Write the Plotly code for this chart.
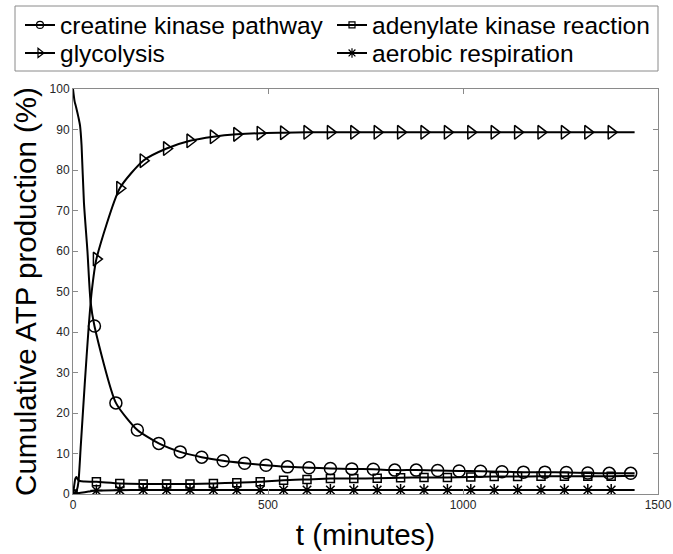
import plotly.graph_objects as go

# ---------------- data ----------------
# creatine kinase pathway: early transient (no markers) and marker points
ck_t_early = [0, 4, 8, 14, 18, 22, 28, 37, 45]
ck_early = [100, 97, 95.5, 93, 91, 86, 72, 60, 47.5]
ck_t_mark = [55, 110, 165, 220, 275, 330, 385, 440, 495, 550, 605, 660, 715,
             770, 825, 880, 935, 990, 1045, 1100, 1155, 1210, 1265, 1320, 1375, 1430]
ck_mark = [41.5, 22.5, 15.8, 12.5, 10.4, 9.1, 8.2, 7.6, 7.1, 6.7, 6.5, 6.3, 6.2,
           6.1, 5.9, 5.9, 5.8, 5.7, 5.6, 5.5, 5.4, 5.4, 5.3, 5.2, 5.1, 5.1]
ck_t_end = [1440]
ck_end = [5.1]

# adenylate kinase reaction
ak_t_early = [3, 6, 9, 12, 18, 30]
ak_early = [2.0, 3.8, 4.2, 3.6, 3.2, 3.1]
ak_t_mark = [0, 60, 120, 180, 240, 300, 360, 420, 480, 540, 600, 660, 720, 780,
             840, 900, 960, 1020, 1080, 1140, 1200, 1260, 1320, 1380]
ak_mark = [0, 3.0, 2.6, 2.5, 2.5, 2.5, 2.6, 2.8, 3.0, 3.4, 3.6, 3.8, 3.8, 3.9,
           4.0, 4.1, 4.1, 4.2, 4.3, 4.3, 4.4, 4.4, 4.4, 4.4]
ak_t_end = [1440]
ak_end = [4.5]

# glycolysis
gl_t_early = [6, 10, 14, 20, 30, 40, 48]
gl_early = [0.3, 1.0, 3.0, 12, 27, 41, 50]
gl_t_mark = [0, 60, 120, 180, 240, 300, 360, 420, 480, 540, 600, 660, 720, 780,
             840, 900, 960, 1020, 1080, 1140, 1200, 1260, 1320, 1380]
gl_mark = [0, 58, 75.5, 82.3, 85.3, 87.2, 88.2, 88.8, 89.1, 89.2, 89.3, 89.3, 89.3, 89.3,
           89.3, 89.3, 89.3, 89.3, 89.3, 89.3, 89.3, 89.3, 89.3, 89.3]
gl_t_end = [1440]
gl_end = [89.3]

# aerobic respiration
ar_t_early = [20, 40]
ar_early = [0.3, 0.6]
ar_t_mark = [0, 60, 120, 180, 240, 300, 360, 420, 480, 540, 600, 660, 720, 780,
             840, 900, 960, 1020, 1080, 1140, 1200, 1260, 1320, 1380]
ar_mark = [0, 0.85, 0.95, 1.0, 1.0, 1.0, 1.0, 1.0, 1.0, 1.0, 1.0, 1.0, 1.0, 1.0,
           1.0, 1.0, 1.0, 1.0, 1.0, 1.0, 1.0, 1.0, 1.0, 1.0]
ar_t_end = [1440]
ar_end = [1.0]

names = ["creatine kinase pathway", "adenylate kinase reaction",
         "glycolysis", "aerobic respiration"]
x_ticks = [0, 500, 1000, 1500]
y_ticks = [0, 10, 20, 30, 40, 50, 60, 70, 80, 90, 100]

FONT = "Liberation Sans, Arial, Helvetica, sans-serif"
BLACK = "#000000"
FRAME = "#8a8a8a"

W, H = 673, 554
ML, MR, MT, MB = 73, 15, 89, 60
PW, PH = W - ML - MR, H - MT - MB


def merged(te, ye, tm, ym, tz, yz):
    pts = sorted(zip(te + tm + tz, ye + ym + yz))
    return [p[0] for p in pts], [p[1] for p in pts]


series = [
    (names[0], ck_t_early, ck_early, ck_t_mark, ck_mark, ck_t_end, ck_end, "circle-open", 12, 7, "legend"),
    (names[1], ak_t_early, ak_early, ak_t_mark, ak_mark, ak_t_end, ak_end, "square-open", 8, 6, "legend2"),
    (names[2], gl_t_early, gl_early, gl_t_mark, gl_mark, gl_t_end, gl_end, "triangle-right-open", 12, 8, "legend3"),
    (names[3], ar_t_early, ar_early, ar_t_mark, ar_mark, ar_t_end, ar_end, "asterisk-open", 10, 8, "legend4"),
]

fig = go.Figure()
for name, te, ye, tm, ym, tz, yz, sym, size, lsize, lg in series:
    tl, yl = merged(te, ye, tm, ym, tz, yz)
    fig.add_trace(go.Scatter(x=tl, y=yl, mode="lines", showlegend=False,
                             line=dict(color=BLACK, width=2, shape="spline", smoothing=0.6),
                             hoverinfo="skip"))
    fig.add_trace(go.Scatter(x=tm, y=ym, mode="markers", showlegend=False, name=name,
                             marker=dict(symbol=sym, size=size, color=BLACK,
                                         line=dict(color=BLACK, width=1.5))))
for name, te, ye, tm, ym, tz, yz, sym, size, lsize, lg in series:
    fig.add_trace(go.Scatter(x=[None], y=[None], mode="lines+markers", name=name,
                             legend=lg,
                             line=dict(color=BLACK, width=2),
                             marker=dict(symbol=sym, size=lsize, color=BLACK,
                                         line=dict(color=BLACK, width=1.2))))

axis_common = dict(showline=True, linecolor=FRAME, linewidth=1, mirror="allticks",
                   ticks="inside", ticklen=5, tickcolor=FRAME, showgrid=False,
                   zeroline=False, tickfont=dict(family=FONT, size=12, color="#262626"))


def legend_at(px_x, px_y):
    return dict(orientation="h", xref="container", yref="container",
                x=px_x / W, y=1 - px_y / H, xanchor="left", yanchor="middle",
                bgcolor="rgba(0,0,0,0)", borderwidth=0,
                font=dict(family=FONT, size=24.5, color="#000"))


# legend frame in pixel terms -> paper coordinates
box_l, box_r, box_t, box_b = 15, 658, 6, 71
frame = dict(type="rect", xref="paper", yref="paper",
             x0=(box_l - ML) / PW, x1=(box_r - ML) / PW,
             y0=(H - MB - box_b) / PH, y1=(H - MB - box_t) / PH,
             line=dict(color=FRAME, width=1), fillcolor="white", layer="below")

fig.update_layout(
    width=W, height=H,
    margin=dict(l=ML, r=MR, t=MT, b=MB, autoexpand=False),
    paper_bgcolor="white", plot_bgcolor="white",
    font=dict(family=FONT, color="#000000"),
    xaxis=dict(range=[0, 1500], tickvals=x_ticks, ticktext=[str(v) for v in x_ticks],
               title=dict(text="t (minutes)", font=dict(family=FONT, size=29.5, color="#000"),
                          standoff=12),
               **axis_common),
    yaxis=dict(range=[0, 100], tickvals=y_ticks, ticktext=[str(v) for v in y_ticks],
               title=dict(text="Cumulative ATP production (%)",
                          font=dict(family=FONT, size=29.5, color="#000"), standoff=4),
               **axis_common),
    legend=legend_at(20, 25),
    legend2=legend_at(332, 25),
    legend3=legend_at(20, 53),
    legend4=legend_at(332, 53),
    shapes=[frame],
)

fig.write_html("out.html")
